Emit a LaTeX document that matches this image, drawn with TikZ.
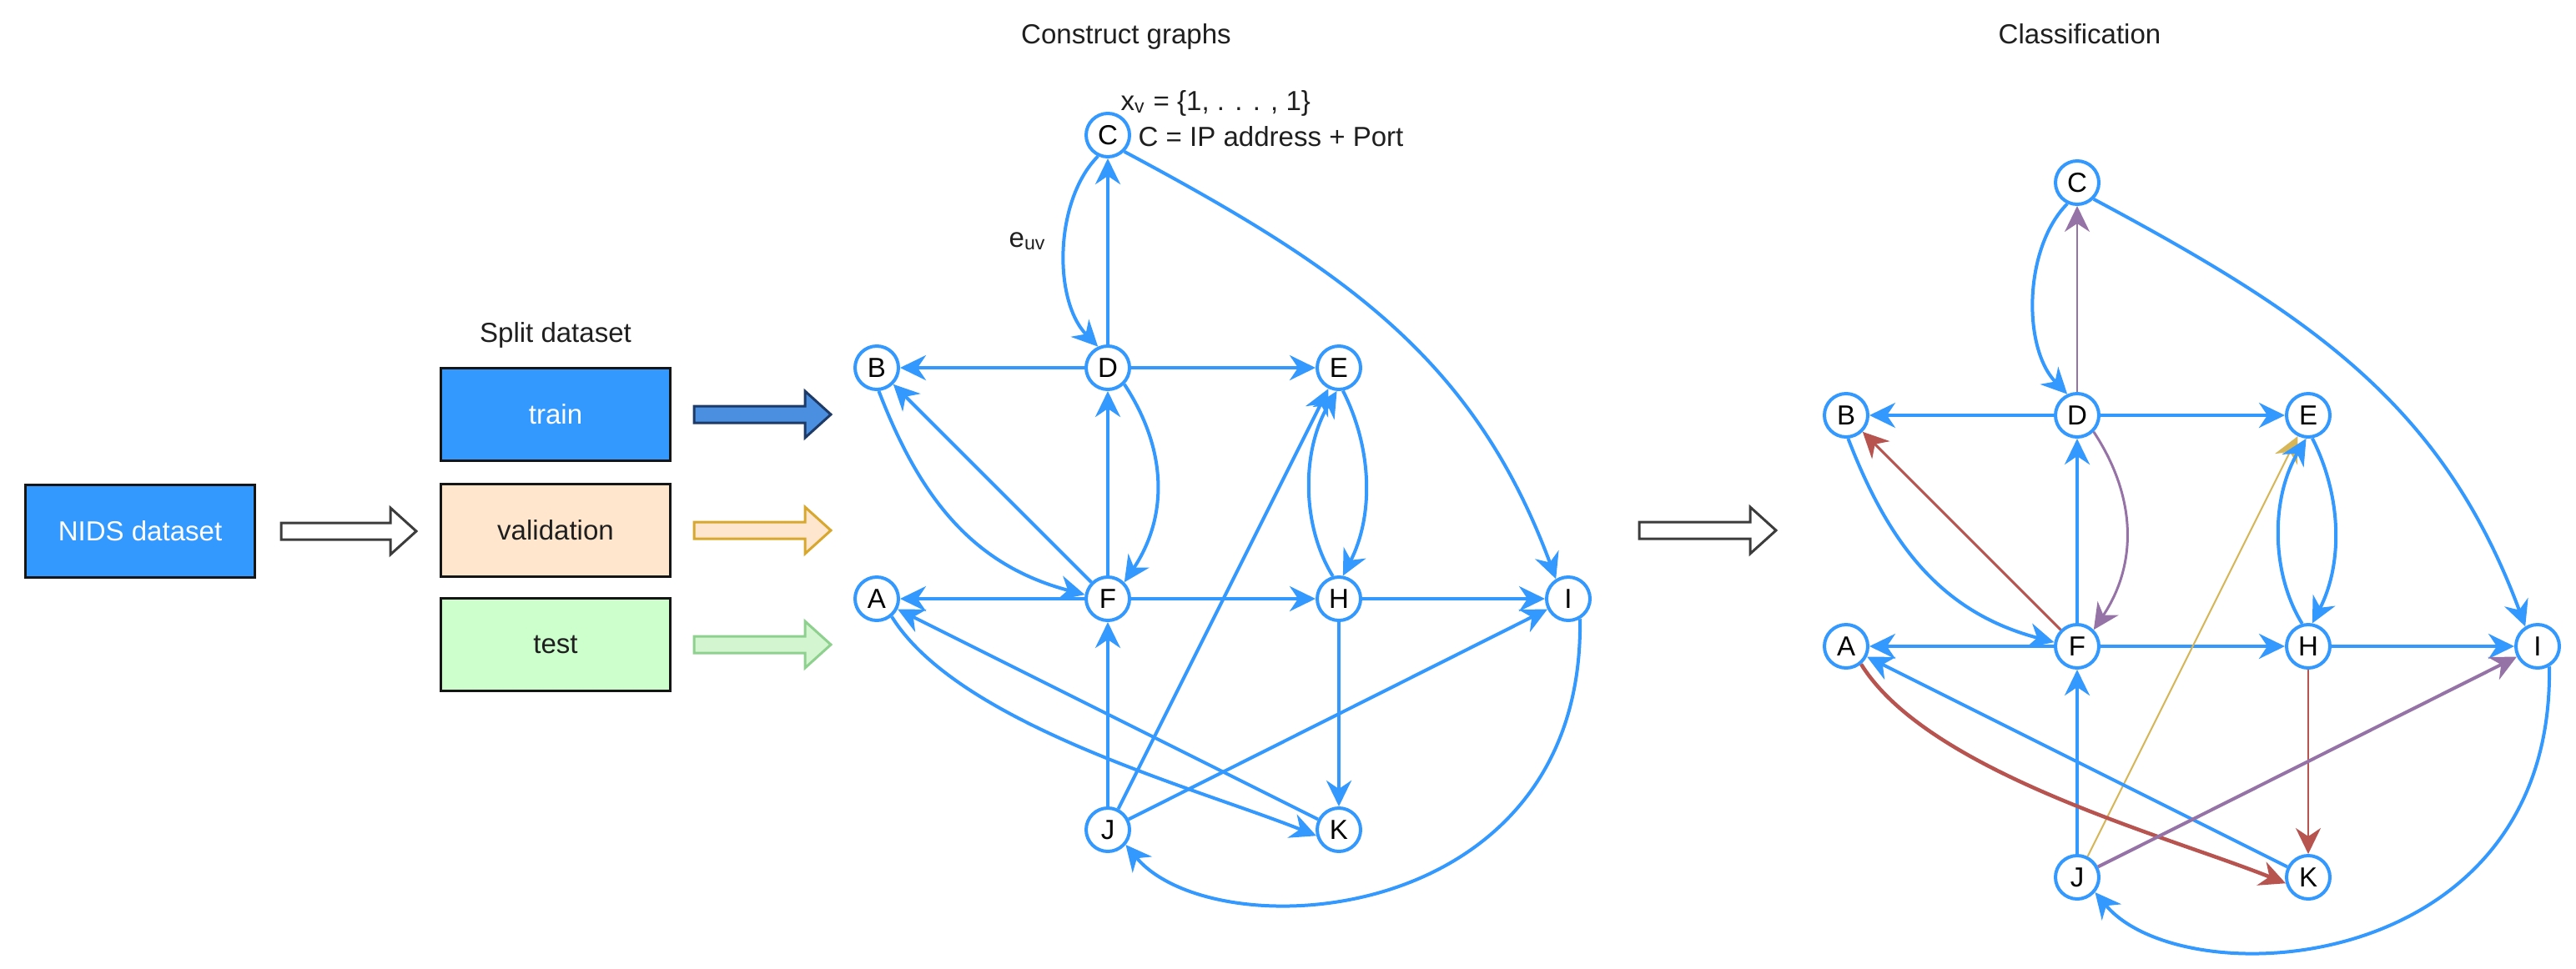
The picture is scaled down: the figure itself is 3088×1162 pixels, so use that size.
\documentclass[tikz,border=0pt]{standalone}
\usepackage{fontspec}
\setmainfont{Liberation Sans}
\usetikzlibrary{arrows.meta,calc}
\definecolor{gblue}{HTML}{3399FF}
\definecolor{epurple}{HTML}{9673A6}
\definecolor{ered}{HTML}{B85450}
\definecolor{egold}{HTML}{D6B656}
\definecolor{tcol}{HTML}{1F1F1F}
\definecolor{boxline}{HTML}{151515}
\definecolor{valfill}{HTML}{FFE6CC}
\definecolor{testfill}{HTML}{CCFFCC}
\definecolor{trfill}{HTML}{4A8FE0}
\definecolor{trdraw}{HTML}{1E3A66}
\definecolor{vafill}{HTML}{FDE5CE}
\definecolor{vadraw}{HTML}{D8A72E}
\definecolor{tefill}{HTML}{D3F6D0}
\definecolor{tedraw}{HTML}{8ED08E}
\definecolor{hodraw}{HTML}{3C3C3C}
\newcommand\fsz{\fontsize{9.4pt}{11pt}\selectfont}
\tikzset{
  gn/.style={circle, draw=gblue, line width=0.4mm, fill=white, minimum size=5.2mm, inner sep=0pt, font=\fsz, text=black},
  txt/.style={inner sep=0pt, font=\fsz, text=tcol},
  dbox/.style={draw=boxline, line width=0.3mm, minimum width=27.5mm, minimum height=11.1mm, inner sep=0pt, font=\fsz},
  edge/.style={draw=gblue, line width=0.4mm, -{Stealth[length=3.1mm,width=3mm,inset=1mm]}},
  eCD/.style={edge}, eDC/.style={edge}, eCI/.style={edge}, eDB/.style={edge},
  eDE/.style={edge}, eDF/.style={edge}, eFD/.style={edge}, eBF/.style={edge},
  eFB/.style={edge}, eFA/.style={edge}, eFH/.style={edge}, eHI/.style={edge},
  eJF/.style={edge}, eJE/.style={edge}, eHE/.style={edge}, eEH/.style={edge},
  eHK/.style={edge}, eKA/.style={edge}, eAK/.style={edge}, eJI/.style={edge},
  eIJ/.style={edge}
}
\newcommand\bigarrow[4]{%
  \draw[line width=0.3mm, fill=#3, draw=#4, line join=miter] (#1) ++(0,-10) -- ++(#2,0) -- ++(0,-18) -- ++(31,28) -- ++(-31,28) -- ++(0,-18) -- ++(-#2,0) -- cycle;
}
\newcommand\drawgraph[1]{%
  \node[gn] (#1C) at (1328,162) {C};
  \node[gn] (#1B) at (1051,441) {B};
  \node[gn] (#1D) at (1328,441) {D};
  \node[gn] (#1E) at (1605,441) {E};
  \node[gn] (#1A) at (1051,718) {A};
  \node[gn] (#1F) at (1328,718) {F};
  \node[gn] (#1H) at (1605,718) {H};
  \node[gn] (#1I) at (1880,718) {I};
  \node[gn] (#1J) at (1328,995) {J};
  \node[gn] (#1K) at (1605,995) {K};
  \draw[eCD] (#1C.-115) .. controls (1264,240) and (1262,360) .. (#1D.115);
  \draw[eDC] (#1D) -- (#1C);
  \draw[eCI] (#1C.-45) .. controls (1610,322) and (1767,429) .. (#1I.122);
  \draw[eDB] (#1D) -- (#1B);
  \draw[eDE] (#1D) -- (#1E);
  \draw[eDF] (#1D.-45) .. controls (1400,540) and (1400,620) .. (#1F.45);
  \draw[eFD] (#1F) -- (#1D);
  \draw[eBF] (#1B.-85) .. controls (1103,598) and (1167,678) .. (#1F.170);
  \draw[eFB] (#1F) -- (#1B);
  \draw[eFA] (#1F) -- (#1A);
  \draw[eFH] (#1F) -- (#1H);
  \draw[eHI] (#1H) -- (#1I);
  \draw[eJF] (#1J) -- (#1F);
  \draw[eJE] (#1J) -- (#1E);
  \draw[eHE] (#1H.105) .. controls (1560,630) and (1560,540) .. (#1E.-95);
  \draw[eEH] (#1E.-80) .. controls (1646,540) and (1646,620) .. (#1H.80);
  \draw[eHK] (#1H) -- (#1K);
  \draw[eKA] (#1K) -- (#1A);
  \draw[eAK] (#1A.-50) .. controls (1150,870) and (1438,946) .. (#1K.-165);
  \draw[eJI] (#1J) -- (#1I);
  \draw[eIJ] (#1I.-60) .. controls (1900,1115) and (1455,1140) .. (#1J.-40);
}
\begin{document}
\begin{tikzpicture}[x=0.1mm,y=-0.1mm]
\fill[white] (0,0) rectangle (3088,1162);
\useasboundingbox (0,0) rectangle (3088,1162);

% titles
\node[txt, anchor=base] (t1) at (1350,52) {Construct graphs};
\node[txt, anchor=base] (t2) at (2493,52) {Classification};
\node[txt, anchor=base] (t3) at (666,410) {Split dataset};

% boxes
\node[dbox, fill=gblue, text=white] (nids) at (168,637) {NIDS dataset};
\node[dbox, fill=gblue, text=white] (train) at (666,497) {train};
\node[dbox, fill=valfill, text=tcol] (val) at (666,636) {validation};
\node[dbox, fill=testfill, text=tcol] (test) at (666,773) {test};

% middle graph
\drawgraph{m}
\node[txt, anchor=base west] (xv) at (1343,132) {x\textsubscript{v} = \{1, . . . , 1\}};
\node[txt, anchor=base west] (cip) at (1364,175) {C = IP address + Port};
\node[txt, anchor=base west] (euv) at (1209,296) {e\textsubscript{uv}};

% right graph
\begin{scope}[shift={(1162,57)},
  eDC/.style={edge, draw=epurple, line width=0.2mm},
  eDF/.style={edge, draw=epurple, line width=0.3mm},
  eFB/.style={edge, draw=ered, line width=0.3mm},
  eJE/.style={edge, draw=egold, line width=0.2mm},
  eHK/.style={edge, draw=ered, line width=0.2mm},
  eAK/.style={edge, draw=ered, line width=0.45mm},
  eJI/.style={edge, draw=epurple, line width=0.4mm}]
\drawgraph{r}
\end{scope}

% big arrows
\coordinate (h1) at ($(nids.east)+(30,0)$);
\bigarrow{h1}{131}{white}{hodraw}
\coordinate (a1) at ($(train.east)+(27,0)$);
\bigarrow{a1}{133}{trfill}{trdraw}
\coordinate (a2) at ($(val.east)+(27,0)$);
\bigarrow{a2}{133}{vafill}{vadraw}
\coordinate (a3) at ($(test.east)+(27,0)$);
\bigarrow{a3}{133}{tefill}{tedraw}
\coordinate (h2) at ($(mI.east)+(57,-82)$);
\bigarrow{h2}{133}{white}{hodraw}
\end{tikzpicture}
\end{document}
